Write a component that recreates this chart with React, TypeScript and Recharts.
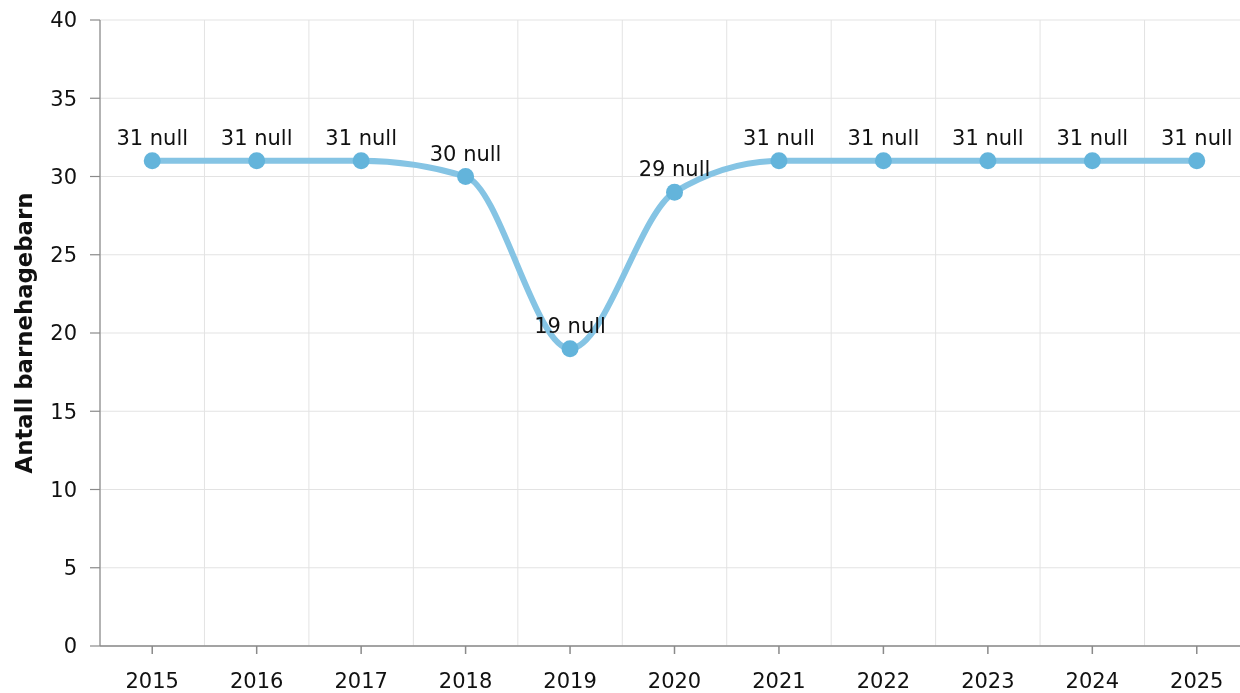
import React from 'react';
import { LineChart, Line, XAxis, YAxis, CartesianGrid, LabelList } from 'recharts';

const years = ['2015', '2016', '2017', '2018', '2019', '2020', '2021', '2022', '2023', '2024', '2025'];
const children = [31, 31, 31, 30, 19, 29, 31, 31, 31, 31, 31];
const yTicks = [0, 5, 10, 15, 20, 25, 30, 35, 40];
const yTitle = 'Antall barnehagebarn';
const labelSuffix = 'null';

const data = years.map((y, i) => ({ year: y, value: children[i] }));

const FONT = '"DejaVu Sans", Verdana, sans-serif';

const vGen = (props: any) => {
  try {
    const xAxis = props && props.xAxis;
    const s = xAxis && xAxis.scale;
    let fn: any = null;
    if (typeof s === 'function') fn = s;
    else if (s && typeof s.map === 'function') fn = (v: any) => s.map(v);
    else if (s && typeof s.apply === 'function') fn = (v: any) => s.apply(v);
    if (fn && s && typeof s.bandwidth === 'function') {
      const bw = s.bandwidth();
      const pts = years.map((y) => fn(y)).filter((v: any) => typeof v === 'number' && !isNaN(v));
      if (pts.length) {
        pts.push(pts[pts.length - 1] + bw);
        return pts;
      }
    }
    const ticks = (xAxis && xAxis.ticks) || [];
    const c = ticks.map((t: any) => t.coordinate).filter((v: any) => typeof v === 'number');
    if (c.length >= 2) {
      const step = c[1] - c[0];
      const res: number[] = [c[0] - step / 2];
      for (let i = 0; i < c.length; i++) res.push(c[i] + step / 2);
      return res;
    }
    const off = props.offset;
    const step = off.width / years.length;
    return years.map((_, i) => off.left + i * step).concat([off.left + off.width]);
  } catch (e) {
    return [];
  }
};

const YTitle = (props: any) => {
  const vb = props.viewBox || {};
  const cx = 16;
  const cy = vb.y + vb.height / 2;
  return (
    <text
      x={cx}
      y={cy}
      transform={`rotate(-90, ${cx}, ${cy})`}
      textAnchor="middle"
      dominantBaseline="central"
      style={{ fontFamily: FONT, fontSize: 22.8, fontWeight: 'bold', fill: '#111' }}
    >
      {yTitle}
    </text>
  );
};

export default function App() {
  return (
    <div style={{ position: 'fixed', left: 8, top: 8, width: 1241, height: 685, overflow: 'visible' }}>
      <LineChart
        width={1241}
        height={685}
        data={data}
        margin={{ top: 12, right: 0, bottom: 0, left: 0 }}
        style={{ fontFamily: FONT, overflow: 'visible', maxWidth: 'none' }}
      >
        <CartesianGrid
          stroke="#e3e3e3"
          strokeWidth={1}
          verticalCoordinatesGenerator={vGen}
        />
        <XAxis
          dataKey="year"
          scale="band"
          height={47}
          tickSize={8}
          tickMargin={19}
          axisLine={{ stroke: '#8a8a8a', strokeWidth: 1.5 }}
          tickLine={{ stroke: '#8a8a8a', strokeWidth: 1.5 }}
          tick={{ fill: '#111', fontSize: 21, fontFamily: FONT }}
          interval={0}
        />
        <YAxis
          domain={[0, 40]}
          ticks={yTicks}
          width={92}
          tickSize={10}
          tickMargin={13}
          axisLine={{ stroke: '#8a8a8a', strokeWidth: 1.2 }}
          tickLine={{ stroke: '#8a8a8a', strokeWidth: 1.2 }}
          tick={{ fill: '#111', fontSize: 21, fontFamily: FONT }}
          interval={0}
          label={<YTitle />}
        />
        <Line
          type="monotone"
          dataKey="value"
          stroke="#85c4e4"
          strokeWidth={6}
          dot={{ r: 8.5, fill: '#63b4db', stroke: 'none' }}
          activeDot={false}
          isAnimationActive={false}
        >
          <LabelList
            dataKey="value"
            position="top"
            offset={16}
            formatter={(v: any) => `${v} ${labelSuffix}`}
            style={{ fill: '#111', fontSize: 21, fontFamily: FONT }}
          />
        </Line>
      </LineChart>
    </div>
  );
}
